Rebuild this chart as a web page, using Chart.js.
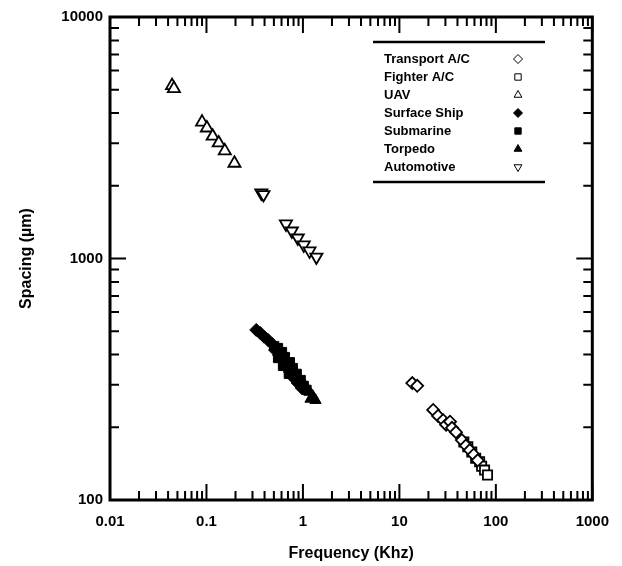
<!DOCTYPE html>
<html>
<head>
<meta charset="utf-8">
<title>Spacing vs Frequency</title>
<script src="https://cdn.jsdelivr.net/npm/chart.js"></script>
<style>
  html, body { margin: 0; padding: 0; background: #fff; }
  #chart { display: block; }
</style>
</head>
<body>
<canvas id="chart" width="622" height="566"></canvas>
<script>
// values (frequency in kHz, spacing in µm)
const transportFreq    = [13.6, 15.3, 22.4, 25.2, 28.4, 30.5, 33.5, 35.1, 38.6, 44.4, 48.9, 53.7, 58.9, 64.8];
const transportSpacing = [305, 297, 236, 223, 214, 205, 211, 199, 191, 177, 168, 161, 154, 146];

const fighterFreq    = [46.6, 51.2, 56.3, 61.8, 67.9, 71.2, 76.4, 82.0];
const fighterSpacing = [174, 166, 158, 149, 144, 138, 133, 127];

const uavFreq    = [0.044, 0.046, 0.090, 0.101, 0.116, 0.134, 0.155, 0.195];
const uavSpacing = [5200, 5050, 3670, 3470, 3210, 3010, 2790, 2480];

const shipFreq    = [0.328, 0.360, 0.396, 0.435, 0.479, 0.514, 0.565, 0.607, 0.667, 0.733, 0.805, 0.885, 0.973];
const shipSpacing = [506, 492, 474, 460, 443, 418, 398, 380, 359, 339, 320, 305, 291];

const subFreq    = [0.503, 0.552, 0.607, 0.651, 0.733, 0.786, 0.863, 0.949, 1.02, 1.09, 0.552, 0.621, 0.714];
const subSpacing = [434, 426, 410, 391, 372, 352, 333, 314, 297, 286, 387, 359, 333];

const torpedoFreq    = [0.995, 1.09, 1.17, 1.20, 1.26, 1.35];
const torpedoSpacing = [308, 291, 280, 262, 270, 259];

const autoFreq    = [0.37, 0.39, 0.667, 0.768, 0.885, 1.02, 1.17, 1.38];
const autoSpacing = [1870, 1840, 1390, 1300, 1216, 1138, 1075, 1014];

const xTickLabels = [0.01, 0.1, 1, 10, 100, 1000];
const yTickLabels = [100, 1000, 10000];

const FONT = '"Liberation Sans", Arial, Helvetica, sans-serif';
Chart.defaults.font.family = FONT;
Chart.defaults.font.weight = 'bold';
Chart.defaults.color = '#000';

const pts = (xs, ys) => xs.map((v, i) => ({ x: v, y: ys[i] }));

// decades plus the 2..9 minor steps between them
function logTicks(decades) {
  const out = [];
  for (let i = 0; i < decades.length - 1; i++) {
    for (let k = 1; k < 10; k++) out.push({ value: decades[i] * k });
  }
  out.push({ value: decades[decades.length - 1] });
  return out;
}
const isDecade = v => Math.abs(Math.log10(v) - Math.round(Math.log10(v))) < 1e-9;

function series(label, xs, ys, style, filled, radius, rotation) {
  return {
    label,
    data: pts(xs, ys),
    pointStyle: style,
    rotation: rotation || 0,
    pointRadius: radius,
    pointHoverRadius: radius,
    backgroundColor: filled ? '#000' : '#fff',
    borderColor: '#000',
    borderWidth: filled ? 1 : 1.8
  };
}

// inward ticks on all four sides + heavy frame
const frameTicks = {
  id: 'frameTicks',
  afterDatasetsDraw(chart) {
    const { ctx, chartArea: a, scales: { x, y } } = chart;
    ctx.save();
    ctx.strokeStyle = '#000';
    ctx.lineWidth = 2;
    ctx.beginPath();
    x.ticks.forEach(t => {
      const px = x.getPixelForValue(t.value);
      const len = isDecade(t.value) ? 16 : 9;
      ctx.moveTo(px, a.bottom); ctx.lineTo(px, a.bottom - len);
      ctx.moveTo(px, a.top); ctx.lineTo(px, a.top + len);
    });
    y.ticks.forEach(t => {
      const py = y.getPixelForValue(t.value);
      const len = isDecade(t.value) ? 16 : 9;
      ctx.moveTo(a.left, py); ctx.lineTo(a.left + len, py);
      ctx.moveTo(a.right, py); ctx.lineTo(a.right - len, py);
    });
    ctx.stroke();
    ctx.lineWidth = 3;
    ctx.strokeRect(a.left, a.top, a.right - a.left, a.bottom - a.top);
    ctx.restore();
  }
};

// legend: label on the left, symbol on the right, rules above and below
const sideLegend = {
  id: 'sideLegend',
  afterDraw(chart) {
    const { ctx, chartArea: a } = chart;
    const sets = chart.data.datasets;
    const x0 = a.left + 263, x1 = a.left + 435;
    const top = a.top + 25, rowH = 18;
    ctx.save();
    ctx.strokeStyle = '#000';
    ctx.lineWidth = 2.5;
    ctx.beginPath();
    ctx.moveTo(x0, top); ctx.lineTo(x1, top);
    ctx.moveTo(x0, top + 140); ctx.lineTo(x1, top + 140);
    ctx.stroke();
    ctx.font = 'bold 13px ' + FONT;
    ctx.textBaseline = 'middle';
    sets.forEach((ds, i) => {
      const yy = top + 17 + i * rowH;
      ctx.fillStyle = '#000';
      ctx.fillText(ds.label, x0 + 11, yy);
      ctx.fillStyle = ds.backgroundColor;
      ctx.strokeStyle = ds.borderColor;
      ctx.lineWidth = 1;
      Chart.helpers.drawPoint(ctx, {
        pointStyle: ds.pointStyle, radius: 4.5, rotation: ds.rotation, borderWidth: 1
      }, x0 + 145, yy);
    });
    ctx.restore();
  }
};

new Chart(document.getElementById('chart'), {
  type: 'scatter',
  data: {
    datasets: [
      series('Transport A/C', transportFreq, transportSpacing, 'rectRot', false, 6),
      series('Fighter A/C', fighterFreq, fighterSpacing, 'rect', false, 6.5),
      series('UAV', uavFreq, uavSpacing, 'triangle', false, 7),
      series('Surface Ship', shipFreq, shipSpacing, 'rectRot', true, 6.5),
      series('Submarine', subFreq, subSpacing, 'rect', true, 6.5),
      series('Torpedo', torpedoFreq, torpedoSpacing, 'triangle', true, 6.5),
      series('Automotive', autoFreq, autoSpacing, 'triangle', false, 7, 180)
    ]
  },
  options: {
    responsive: false,
    animation: false,
    layout: { padding: { top: 17, right: 23, left: 0, bottom: 0 } },
    plugins: { legend: { display: false }, tooltip: { enabled: false } },
    scales: {
      x: {
        type: 'logarithmic',
        min: xTickLabels[0],
        max: xTickLabels[xTickLabels.length - 1],
        afterBuildTicks: s => { s.ticks = logTicks(xTickLabels); },
        afterFit: s => { s.height = 66; },
        grid: { display: false, drawTicks: false },
        border: { display: false },
        ticks: {
          autoSkip: false, maxRotation: 0, padding: 13,
          font: { size: 15, weight: 'bold' },
          callback: v => (xTickLabels.includes(v) ? String(v) : '')
        },
        title: {
          display: true, text: 'Frequency (Khz)',
          font: { size: 16, weight: 'bold' },
          padding: { top: 4, bottom: 3 }
        }
      },
      y: {
        type: 'logarithmic',
        min: yTickLabels[0],
        max: yTickLabels[yTickLabels.length - 1],
        afterBuildTicks: s => { s.ticks = logTicks(yTickLabels); },
        afterFit: s => { s.width = 110; },
        grid: { display: false, drawTicks: false },
        border: { display: false },
        ticks: {
          autoSkip: false, padding: 7,
          font: { size: 15, weight: 'bold' },
          callback: v => (yTickLabels.includes(v) ? String(v) : '')
        },
        title: {
          display: true, text: 'Spacing (µm)',
          font: { size: 16, weight: 'bold' },
          padding: { top: 17, bottom: 0 }
        }
      }
    }
  },
  plugins: [frameTicks, sideLegend]
});
</script>
</body>
</html>
